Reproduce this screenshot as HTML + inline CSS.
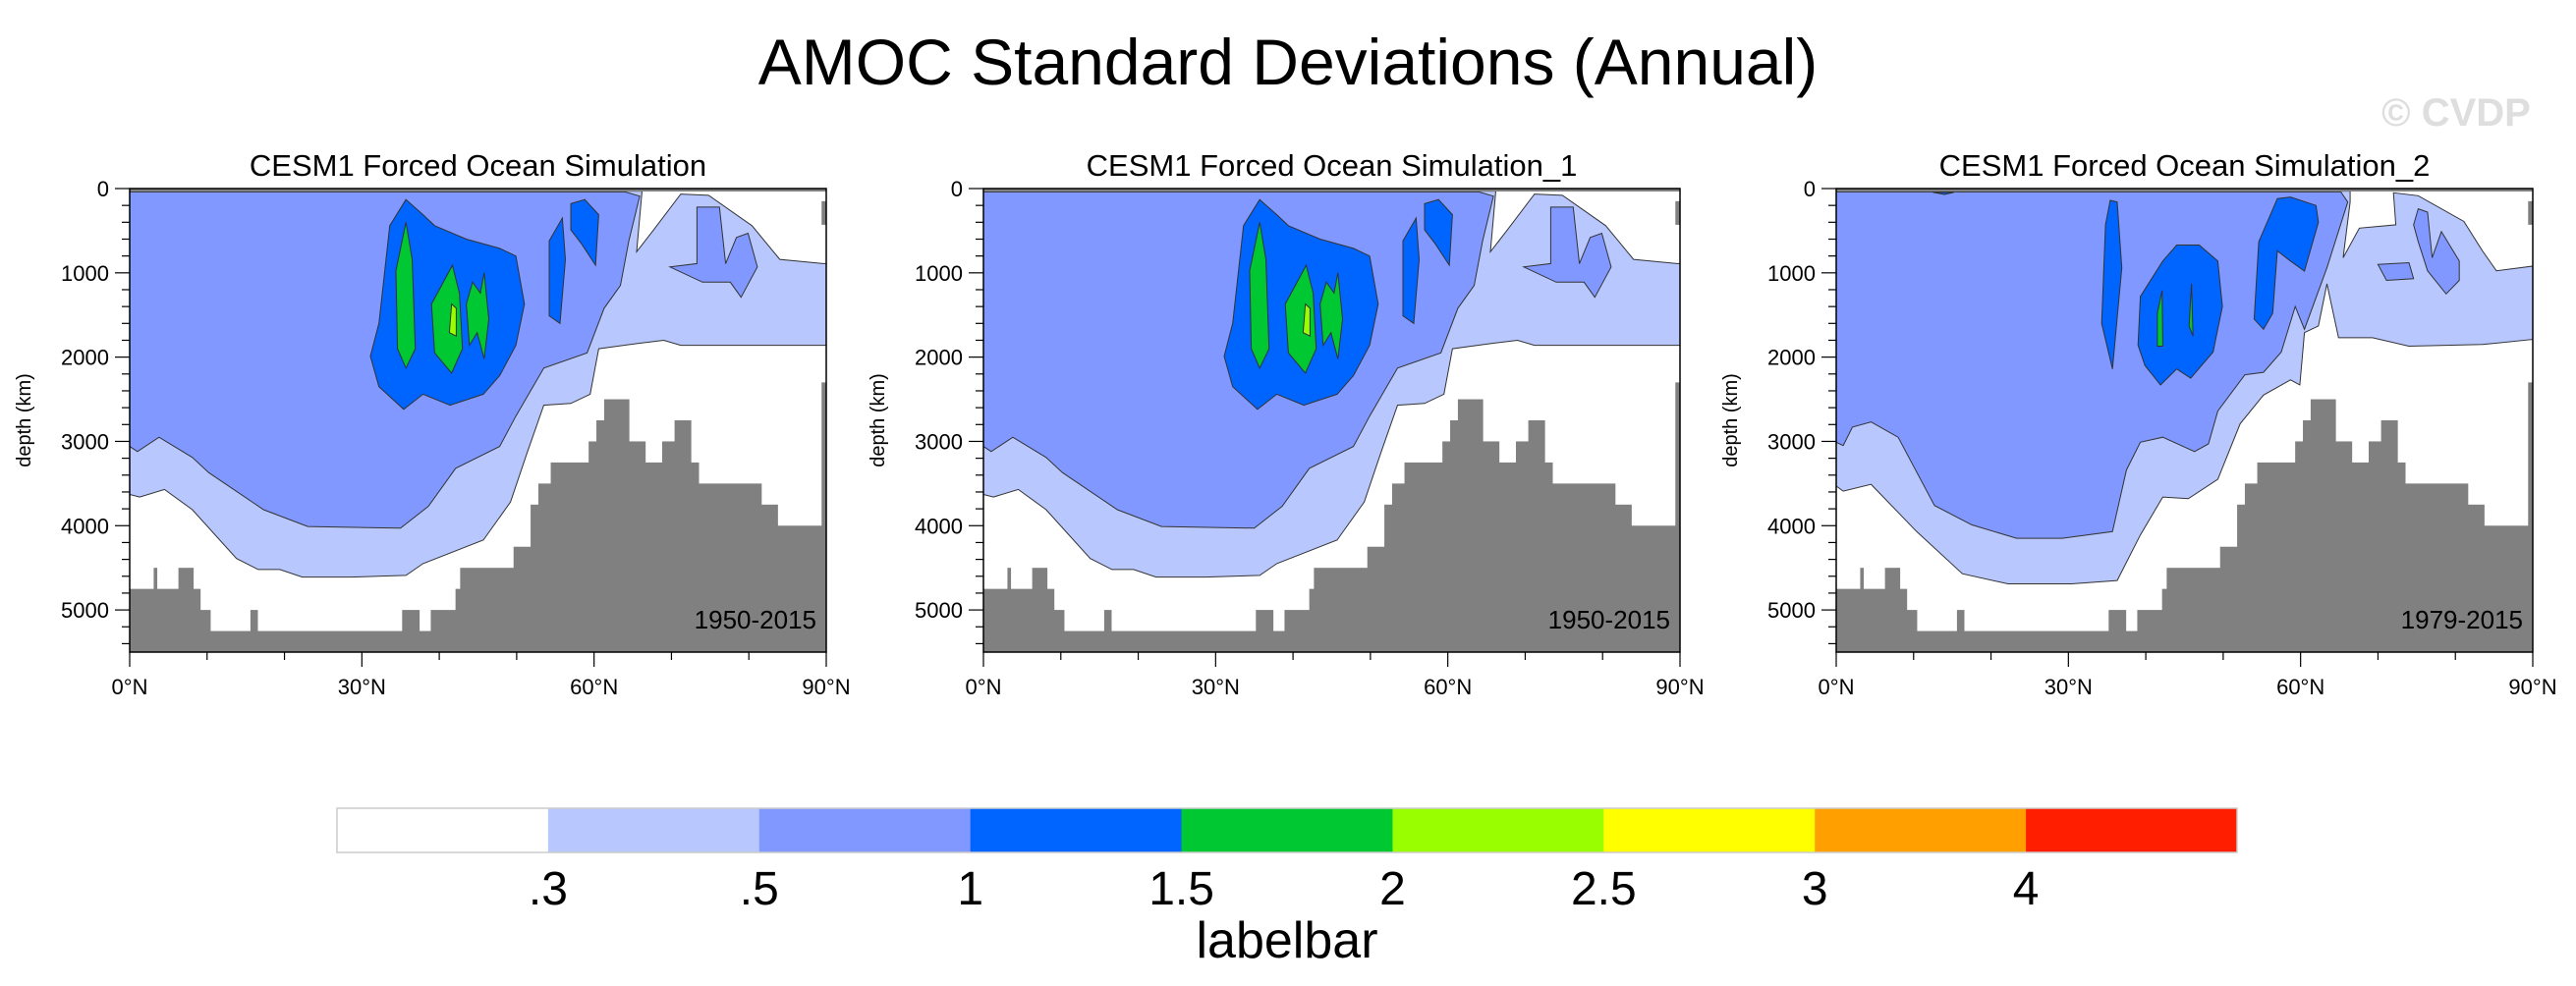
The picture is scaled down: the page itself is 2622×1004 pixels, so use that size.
<!DOCTYPE html>
<html><head><meta charset="utf-8">
<style>
html,body{margin:0;padding:0;background:#fff;}
svg{display:block;font-family:"Liberation Sans",sans-serif;}
</style></head>
<body>
<svg id="fig" width="2622" height="1004" viewBox="0 0 2622 1004" xmlns="http://www.w3.org/2000/svg">
<text x="1311" y="86" text-anchor="middle" font-size="66">AMOC Standard Deviations (Annual)</text>
<text x="2500" y="128" text-anchor="middle" font-size="40" font-weight="bold" fill="#dedede">© CVDP</text>
<g id="panels"></g>
<g id="colorbar"></g>
</svg>
<script>
// ---- data ----
const levelColors = ["#B8C8FF","#8098FF","#0064FF","#00C832","#99FF00"];
const cbColors = ["#FFFFFF","#B8C8FF","#8098FF","#0064FF","#00C832","#99FF00","#FFFF00","#FFA000","#FF1E00"];
const cbLabels = [".3",".5","1","1.5","2","2.5","3","4"];
const panelTitles = ["CESM1 Forced Ocean Simulation","CESM1 Forced Ocean Simulation_1","CESM1 Forced Ocean Simulation_2"];
const panelYears = ["1950-2015","1950-2015","1979-2015"];
const xTicks = [0,30,60,90];
const xTickLabels = ["0°N","30°N","60°N","90°N"];
const yTicks = [0,1000,2000,3000,4000,5000];
// topography steps: [latStart, latEnd, depthTop]
const topoSteps = [[0,3.1,4750],[3.1,3.5,4500],[3.5,6.3,4750],[6.3,8.2,4500],[8.2,9.1,4750],[9.1,10.4,5000],[10.4,15.6,5250],[15.6,16.5,5000],[16.5,35.2,5250],[35.2,37.4,5000],[37.4,38.9,5250],[38.9,42.1,5000],[42.1,42.7,4750],[42.7,49.6,4500],[49.6,51.8,4250],[51.8,52.8,3750],[52.8,54.4,3500],[54.4,59.3,3250],[59.3,60.3,3000],[60.3,61.3,2750],[61.3,64.5,2500],[64.5,66.6,3000],[66.6,68.8,3250],[68.8,70.4,3000],[70.4,72.5,2750],[72.5,73.5,3250],[73.5,81.6,3500],[81.6,83.7,3750],[83.7,89.4,4000],[89.4,90,2300]];

// contour regions, level index -> list of polygons [lat,depth,...]
const regionsA = [
 [[0,30,66.2,30,65.5,750,67.7,490,71.2,65,74.8,80,80.4,440,84,840,89.6,890,90,890,90,1860,71.2,1860,69,1800,65.5,1840,60.6,1900,59.5,2440,57,2550,53.5,2570,51.3,3150,49.2,3720,45.7,4170,37.9,4450,35.7,4590,28.7,4610,22.3,4610,19.4,4520,16.6,4520,13.8,4390,8.1,3810,4.5,3570,1.3,3660,0,3630]],
 [[0,40,64,40,65.9,90,64.5,620,63.4,1150,61.3,1420,59.1,1950,53.5,2130,49.9,2700,47.8,3060,42.1,3320,38.6,3770,35,4030,23,4010,17.3,3810,10.2,3370,8.1,3190,3.8,2950,1,3120,0,3060],
  [73.3,220,76.2,220,77,890,78.4,580,79.9,530,81.1,930,79,1290,77.6,1110,74,1110,69.8,930,73.3,890]],
 [[35.7,130,37.9,310,39.4,440,43.5,600,47.8,710,49.9,800,51,1370,49.9,1860,47.8,2220,45.7,2440,41.4,2570,37.9,2440,35.4,2620,32.2,2350,31.1,1990,32.2,1600,33.6,440],
  [54.2,620,55.9,350,56.3,840,55.6,1600,54.2,1510],
  [57,180,58.8,130,60.6,310,60.2,910,58.4,660,57,490]],
 [[35.7,400,36.5,840,36.9,1900,35.7,2130,34.6,1900,34.4,975],
  [41.7,910,42.6,1240,43,1900,41.6,2190,39.4,1950,39,1370,40,1200],
  [44.3,1110,45.3,1240,45.8,1000,46.4,1550,45.8,2020,44.9,1710,43.9,1860,43.5,1370]],
 [[41.6,1370,42.2,1420,42.2,1750,41.3,1710]]
];
const regionsC = [
 [[0,30,66.4,30,66.4,160,65.5,820,67.6,470,72.3,430,72,50,75.2,85,81.1,390,83.5,740,85.3,975,90,920,90,1790,83.5,1850,74,1870,69.3,1770,64.9,1770,63.4,1130,62.3,1630,60.5,1710,59.9,2330,58.7,2270,55.2,2450,52.2,2790,49.3,3450,45.5,3680,42.2,3660,39.3,4110,36.3,4650,30.4,4690,22.2,4690,16.3,4570,10.4,4070,4.5,3510,0.9,3590,0,3530]],
 [[0,40,65.2,40,66.1,160,63.4,940,60.5,1670,59.3,1400,57.5,1940,55.2,2180,52.8,2210,49.3,2640,48.1,3030,46.3,3120,42.2,2950,39.3,3010,37.5,3340,35.7,4070,29.2,4150,23.3,4150,17.5,3990,12.7,3760,8,2950,4.5,2770,2.1,2830,0.9,3050,0,3010],
  [75.2,240,76.4,280,77,820,78.2,510,80.5,860,80.5,1090,78.8,1250,76.4,975,75.2,630,74.6,430],
  [70,900,74,880,74.6,1070,71.1,1090]],
 [[44,670,46.9,670,49.3,860,49.9,1400,48.7,1940,45.8,2250,44,2140,41.9,2330,39.9,2100,39,1860,39.3,1280,42.2,860],
  [35.4,140,36.3,160,36.9,940,35.7,2140,34.3,1600,34.8,430],
  [57,120,58.7,100,62,200,62.3,400,60.5,980,58.7,860,57,740,56.4,1480,55.2,1670,54,1550,54.6,630],
  [12.5,45,15.2,45,14,70]],
 [[42.1,1210,42.2,1870,41.5,1870,41.5,1480],
  [45.9,1130,46.1,1750,45.6,1630]],
 []
];
const panelRegions = [regionsA, regionsA, regionsC];
const panelX0 = [132, 1001, 1869];

// ---- drawing ----
const NS = "http://www.w3.org/2000/svg";
const PW = 709, PT = 192, PH = 472, DMAX = 5500;
function mk(tag, attrs, parent){
  const e = document.createElementNS(NS, tag);
  for (const k in attrs) e.setAttribute(k, attrs[k]);
  parent.appendChild(e); return e;
}
const panelsG = document.getElementById('panels');
panelTitles.forEach((title, p) => {
  const x0 = panelX0[p];
  const xs = lat => x0 + lat / 90 * PW;
  const ys = d => PT + d / DMAX * PH;
  const g = mk('g', {}, panelsG);
  
  
  const t = mk('text', {x: x0 + PW / 2, y: 179, 'text-anchor': 'middle', 'font-size': 31}, g);
  t.textContent = title;
  
  
  panelRegions[p].forEach((polys, li) => {
    polys.forEach(pl => {
      if (!pl.length) return;
      let pts = [];
      for (let i = 0; i < pl.length; i += 2) pts.push(xs(pl[i]).toFixed(1) + ',' + ys(pl[i + 1]).toFixed(1));
      const poly = mk('polygon', {points: pts.join(' '), fill: levelColors[li], stroke: '#333', 'stroke-width': 1}, g);
      
      
    });
  });
  topoSteps.forEach(s => {
    const r = mk('rect', {x: xs(s[0]), y: ys(s[2]), width: xs(s[1]) - xs(s[0]) + 0.5, height: ys(DMAX) - ys(s[2]), fill: '#808080'}, g);
    
    
  });
  const r2 = mk('rect', {x: xs(89.4), y: ys(150), width: xs(90) - xs(89.4), height: ys(430) - ys(150), fill: '#808080'}, g);
  
  
  const surf = mk('rect', {x: x0, y: PT, width: PW, height: 3, fill: '#808080'}, g);
  
  
  const fr = mk('rect', {x: x0, y: PT, width: PW, height: PH, fill: 'none', stroke: '#000', 'stroke-width': 1.5}, g);
  
  
  for (let lat = 0; lat <= 90; lat += 10) {
    const major = lat % 30 === 0;
    mk('line', {x1: xs(lat), x2: xs(lat), y1: PT + PH, y2: PT + PH + (major ? 15 : 8), stroke: '#000', 'stroke-width': 1.2}, g);
  }
  xTicks.forEach((v, i) => {
    const tl = mk('text', {x: xs(v), y: PT + PH + 43, 'text-anchor': 'middle', 'font-size': 22}, g);
    tl.textContent = xTickLabels[i];
    
    
  });
  for (let d = 0; d <= DMAX; d += 200) {
    const major = d % 1000 === 0;
    mk('line', {x1: x0, x2: x0 - (major ? 15 : 8), y1: ys(d), y2: ys(d), stroke: '#000', 'stroke-width': 1.2}, g);
  }
  yTicks.forEach(v => {
    const tl = mk('text', {x: x0 - 21, y: ys(v) + 8, 'text-anchor': 'end', 'font-size': 22}, g);
    tl.textContent = String(v);
    
    
  });
  const yt = mk('text', {x: 0, y: 0, 'text-anchor': 'middle', 'font-size': 20, transform: `translate(${x0 - 101},${PT + PH / 2}) rotate(-90)`}, g);
  yt.textContent = 'depth (km)';
  
  
  const yr = mk('text', {x: x0 + PW - 10, y: 640, 'text-anchor': 'end', 'font-size': 26}, g);
  yr.textContent = panelYears[p];
  
  
});

// colorbar
const cb = document.getElementById('colorbar');
const CBX = 343, CBW = 1934, CBY = 823, CBH = 45;
const bw = CBW / cbColors.length;
cbColors.forEach((c, i) => {
  const r = mk('rect', {x: CBX + i * bw, y: CBY, width: bw + 0.5, height: CBH, fill: c}, cb);
  
  
});
mk('rect', {x: CBX, y: CBY, width: CBW, height: CBH, fill: 'none', stroke: '#ccc', 'stroke-width': 1.5}, cb);
cbLabels.forEach((l, i) => {
  const t = mk('text', {x: CBX + (i + 1) * bw, y: 921, 'text-anchor': 'middle', 'font-size': 48}, cb);
  t.textContent = l;
  
  
});
const lb = mk('text', {x: CBX + CBW / 2, y: 975, 'text-anchor': 'middle', 'font-size': 52}, cb);
lb.textContent = 'labelbar';


</script>
</body></html>
